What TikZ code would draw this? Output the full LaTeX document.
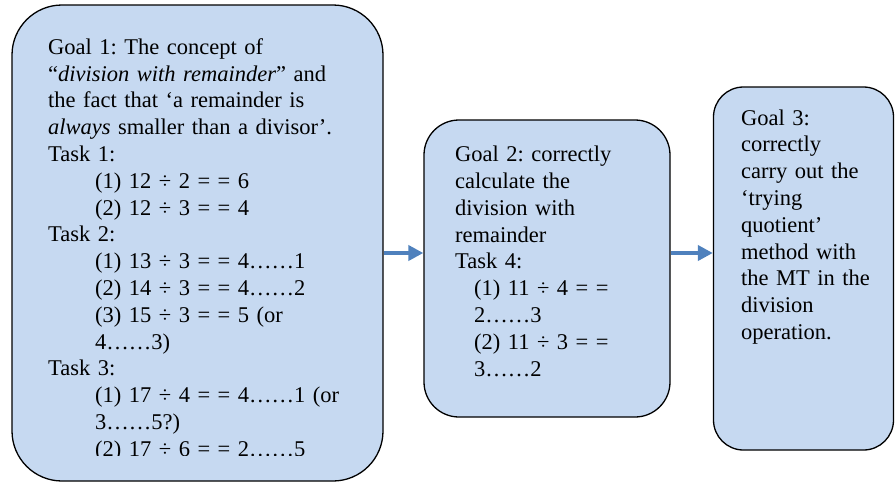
\documentclass[tikz,border=0pt]{standalone}
\usepackage{fontspec}
\setmainfont{Liberation Serif}
\usetikzlibrary{arrows.meta}

\definecolor{goalfill}{HTML}{C6D9F1}
\definecolor{flowblue}{HTML}{4F81BD}
\frenchspacing

\begin{document}
\begin{tikzpicture}[x=1pt, y=-1pt,
	goalbox/.style={draw=black, fill=goalfill, line width=1.3pt},
	goaltext/.style={anchor=base west, inner sep=0pt, align=left, text width=330pt,
		font=\fontsize{22.5}{26.8}\selectfont},
	flow/.style={-{Triangle[length=15pt, width=15pt]}, line width=4pt, flowblue}]
	\useasboundingbox (0,0) rectangle (895,483);
	\node[goalbox, rounded corners=50pt, minimum width=371pt, minimum height=476pt] (goal1) at (197.5,243) {};
	\node[goalbox, rounded corners=35pt, minimum width=246pt, minimum height=297pt] (goal2) at (547,268.5) {};
	\node[goalbox, rounded corners=30pt, minimum width=180pt, minimum height=363pt] (goal3) at (803.5,268.5) {};
	\begin{scope}
		\clip (12,5) rectangle (383,455);
		\node[goaltext] (text1) at (48,54.3) {Goal 1: The concept of\\
			“\textit{division with remainder}” and\\
			the fact that ‘a remainder is\\
			\textit{always} smaller than a divisor’.\\
			Task 1:\\
			\hspace*{47pt}(1) 12 ÷ 2 = = 6\\
			\hspace*{47pt}(2) 12 ÷ 3 = = 4\\
			Task 2:\\
			\hspace*{47pt}(1) 13 ÷ 3 = = 4……1\\
			\hspace*{47pt}(2) 14 ÷ 3 = = 4……2\\
			\hspace*{47pt}(3) 15 ÷ 3 = = 5 (or\\
			\hspace*{47pt}4……3)\\
			Task 3:\\
			\hspace*{47pt}(1) 17 ÷ 4 = = 4……1 (or\\
			\hspace*{47pt}3……5?)\\
			\hspace*{47pt}(2) 17 ÷ 6 = = 2……5};
	\end{scope}
	\node[goaltext] (text2) at (455,161.7) {Goal 2: correctly\\
		calculate the\\
		division with\\
		remainder\\
		Task 4:\\
		\hspace*{19pt}(1) 11 ÷ 4 = =\\
		\hspace*{19pt}2……3\\
		\hspace*{19pt}(2) 11 ÷ 3 = =\\
		\hspace*{19pt}3……2};
	\node[goaltext] (text3) at (741,125) {Goal 3:\\
		correctly\\
		carry out the\\
		‘trying\\
		quotient’\\
		method with\\
		the MT in the\\
		division\\
		operation.};
	\coordinate (row) at (0,253);
	\draw[flow] (goal1.east |- row) -- (goal2.west |- row);
	\draw[flow] (goal2.east |- row) -- (goal3.west |- row);
\end{tikzpicture}
\end{document}
